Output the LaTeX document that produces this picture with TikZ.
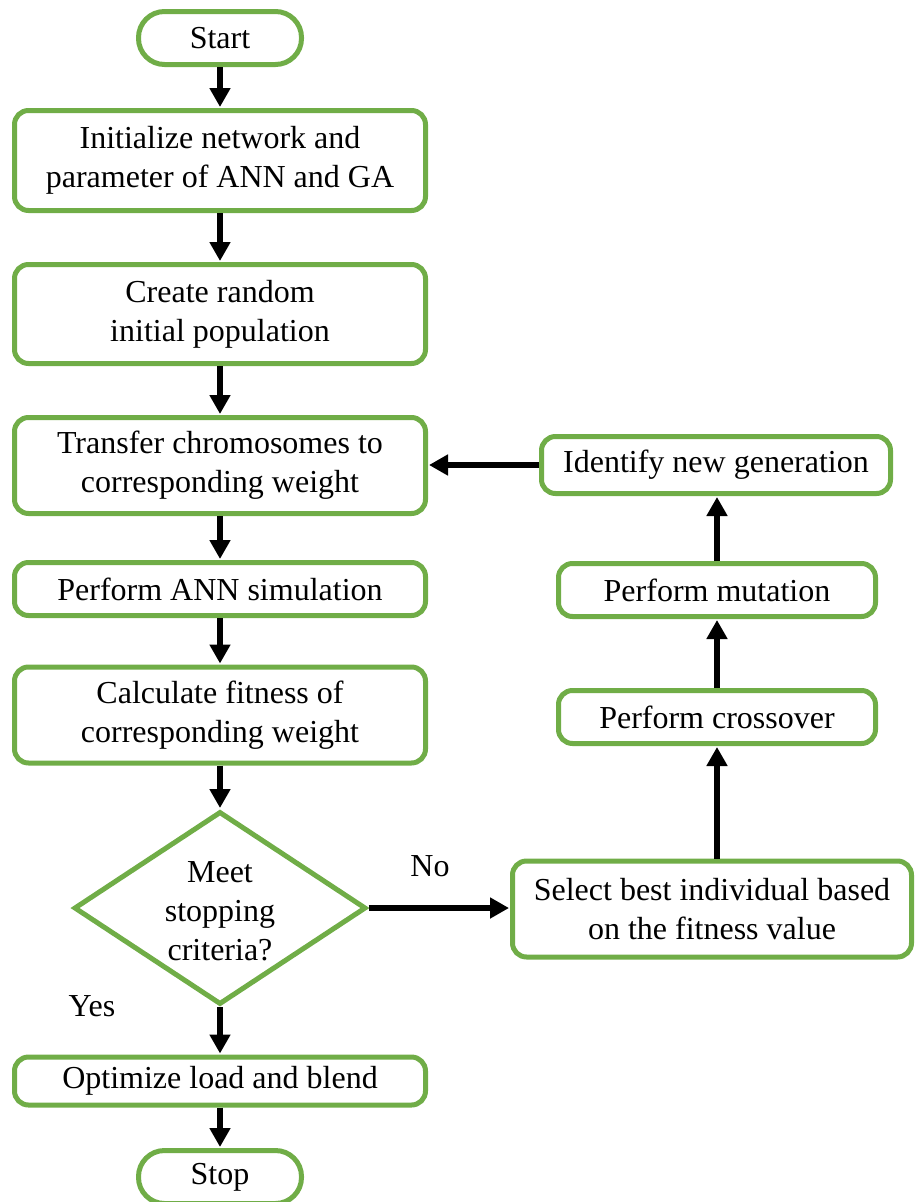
\documentclass[tikz,border=0pt]{standalone}
\usepackage{fontspec}
\setmainfont{Liberation Serif}
\usetikzlibrary{shapes.geometric,arrows.meta}
\definecolor{gr}{HTML}{70AD47}
\begin{document}
\begin{tikzpicture}[x=1pt,y=-1pt,
  txt/.style={font=\fontsize{32}{39}\selectfont},
  box/.style={draw=gr,line width=5pt,rounded corners=14pt,fill=white,align=center,
    txt,inner sep=0pt,minimum width=411pt},
  term/.style={box,rounded corners=26pt,minimum width=163pt,minimum height=53pt},
  arr/.style={line width=6pt,-{Triangle[length=19pt,width=20pt]},shorten >=1pt}]
\useasboundingbox (0,0) rectangle (916,1202);
\node[term] (start) at (220,38) {Start};
\node[box,minimum height=100pt] (init) at (220,160.5) {Initialize network and\\parameter of ANN and GA};
\node[box,minimum height=99pt] (create) at (220,314) {Create random\\initial population};
\node[box,minimum height=96pt] (transfer) at (220,465.5) {Transfer chromosomes to\\corresponding weight};
\node[box,minimum height=53pt] (ann) at (220,589) {Perform ANN simulation};
\node[box,minimum height=96pt] (calc) at (220,715) {Calculate fitness of\\corresponding weight};
\node[diamond,draw=gr,line width=5pt,aspect=1.5,minimum width=292pt,minimum height=193pt,inner sep=0pt] (dec) at (220,908) {};
\node[txt,align=center] (dectext) at (220,911) {Meet\\stopping\\criteria?};
\node[box,minimum height=48pt] (opt) at (220,1081) {Optimize load and blend};
\node[term] (stop) at (220,1177) {Stop};
\node[box,minimum width=399pt,minimum height=96pt] (select) at (712,909) {Select best individual based\\on the fitness value};
\node[box,minimum width=317pt,minimum height=53pt] (cross) at (717,717) {Perform crossover};
\node[box,minimum width=317pt,minimum height=53pt] (mut) at (717,590) {Perform mutation};
\node[box,minimum width=349pt,minimum height=57pt] (ident) at (716,465) {Identify new generation};
\node[txt] (yes) at (92,1006) {Yes};
\node[txt] (no) at (430,866) {No};
\draw[arr] (start) -- (init);
\draw[arr] (init) -- (create);
\draw[arr] (create) -- (transfer);
\draw[arr] (transfer) -- (ann);
\draw[arr] (ann) -- (calc);
\draw[arr] (calc) -- (dec);
\draw[arr] (dec) -- (opt);
\draw[arr] (opt) -- (stop);
\draw[arr] (dec.east) -- (dec.east -| select.west);
\draw[arr] (cross.south |- select.north) -- (cross.south);
\draw[arr] (cross.north) -- (mut.south);
\draw[arr] (mut.north) -- (mut.north |- ident.south);
\draw[arr] (ident.west) -- (ident.west -| transfer.east);
\end{tikzpicture}
\end{document}
